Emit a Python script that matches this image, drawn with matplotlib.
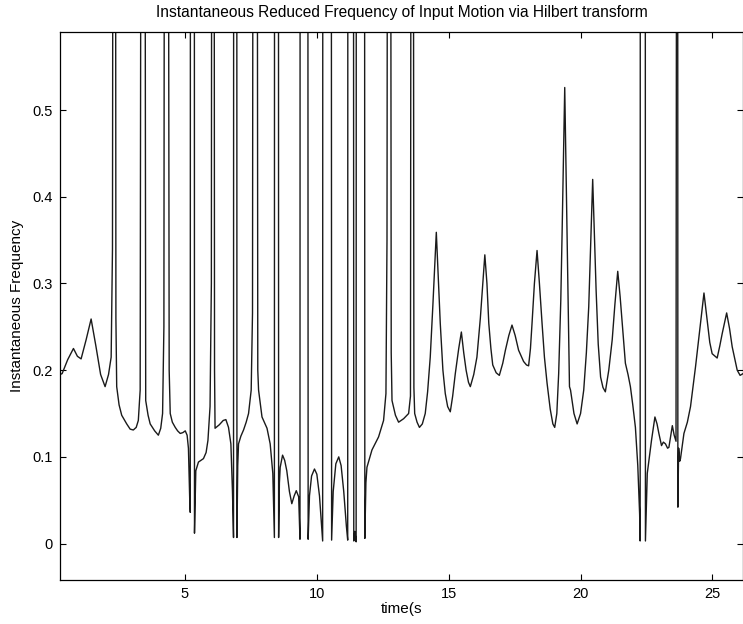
"""
Instantaneous reduced frequency of the input motion (Hilbert transform)
-- single black trace, off-scale spikes are clipped by the y limits
"""

import matplotlib
matplotlib.use("Agg")
import matplotlib.pyplot as plt

# values; 1.5 stands for the off-scale spikes
time_s = [
    0.26, 0.34, 0.55, 0.77, 0.92, 1.06, 1.25, 1.44, 1.62, 1.80, 1.97, 2.10, 2.20, 2.25,
    2.29, 2.35, 2.38, 2.41, 2.50, 2.60, 2.79, 2.92, 3.04, 3.15, 3.23, 3.30,
    3.36, 3.46, 3.51, 3.60, 3.68, 3.85, 3.99, 4.08, 4.15, 4.20,
    4.24, 4.34, 4.40, 4.44, 4.52, 4.63, 4.72, 4.82, 4.92, 5.01, 5.08, 5.13, 5.18, 5.20,
    5.21, 5.35, 5.36, 5.41, 5.51, 5.70, 5.80, 5.87, 5.95, 6.00,
    6.03, 6.09, 6.12, 6.14, 6.30, 6.45, 6.55, 6.65, 6.74, 6.80, 6.84,
    6.85, 6.96, 6.97, 7.00, 7.03, 7.12, 7.22, 7.32, 7.41, 7.51, 7.56,
    7.60, 7.72, 7.76, 7.79, 7.92, 8.11, 8.23, 8.33, 8.39,
    8.40, 8.54, 8.55, 8.58, 8.61, 8.70, 8.78, 8.86, 8.96, 9.05, 9.14, 9.22, 9.31, 9.36,
    9.37, 9.65, 9.67, 9.72, 9.80, 9.91, 10.00, 10.10, 10.18, 10.22,
    10.23, 10.54, 10.56, 10.62, 10.72, 10.83, 10.92, 11.02, 11.12, 11.17,
    11.18, 11.38, 11.40, 11.44, 11.49,
    11.50, 11.80, 11.82, 11.86, 11.90, 12.09, 12.34, 12.53, 12.62, 12.66,
    12.70, 12.78, 12.82, 12.85, 12.98, 13.10, 13.29, 13.48, 13.55,
    13.59, 13.64, 13.68, 13.71, 13.80, 13.89, 14.00, 14.11, 14.20, 14.30, 14.40, 14.53,
    14.60, 14.68, 14.78, 14.87, 14.96, 15.06, 15.15, 15.25, 15.38, 15.48, 15.57, 15.66,
    15.75, 15.82, 15.95, 16.07, 16.20, 16.37, 16.45, 16.52, 16.60, 16.67, 16.80, 16.92,
    17.05, 17.15, 17.28, 17.40, 17.52, 17.65, 17.84, 17.95, 18.03, 18.10, 18.16, 18.25,
    18.35, 18.44, 18.54, 18.63, 18.73, 18.85, 18.95, 19.02, 19.10, 19.17, 19.25, 19.30,
    19.40, 19.49, 19.58, 19.62, 19.75, 19.87, 20.00, 20.12, 20.22, 20.31, 20.40, 20.46,
    20.52, 20.59, 20.67, 20.76, 20.85, 20.94, 21.07, 21.20, 21.30, 21.41, 21.50, 21.58,
    21.70, 21.80, 21.89, 21.98, 22.08, 22.17, 22.24, 22.26,
    22.27, 22.45, 22.46, 22.50, 22.53, 22.69, 22.82, 22.90, 22.97, 23.07, 23.14, 23.22,
    23.30, 23.35, 23.48, 23.55, 23.62,
    23.66, 23.68, 23.69, 23.72, 23.76, 23.79, 23.92, 24.05, 24.17, 24.36, 24.55, 24.68,
    24.80, 24.90, 24.99, 25.18, 25.28, 25.37, 25.54, 25.65, 25.75, 25.94, 26.05, 26.16,
]

inst_freq = [
    0.195, 0.196, 0.212, 0.225, 0.216, 0.213, 0.235, 0.259, 0.228, 0.195, 0.181, 0.195, 0.215, 0.340,
    1.5, 1.5, 0.260, 0.181, 0.160, 0.148, 0.138, 0.132, 0.131, 0.134, 0.142, 0.177,
    1.5, 1.5, 0.165, 0.148, 0.138, 0.130, 0.125, 0.133, 0.150, 0.250,
    1.5, 1.5, 0.200, 0.150, 0.140, 0.134, 0.130, 0.127, 0.128, 0.130, 0.125, 0.110, 0.050, 0.036,
    1.5, 1.5, 0.012, 0.084, 0.094, 0.098, 0.105, 0.119, 0.158, 0.300,
    1.5, 1.5, 0.200, 0.133, 0.137, 0.142, 0.143, 0.134, 0.115, 0.060, 0.007,
    1.5, 1.5, 0.007, 0.090, 0.115, 0.124, 0.131, 0.140, 0.150, 0.177, 0.266,
    1.5, 1.5, 0.200, 0.177, 0.146, 0.133, 0.115, 0.081, 0.007,
    1.5, 1.5, 0.007, 0.070, 0.088, 0.102, 0.096, 0.084, 0.060, 0.046, 0.055, 0.061, 0.054, 0.005,
    1.5, 1.5, 0.005, 0.055, 0.078, 0.086, 0.080, 0.055, 0.020, 0.003,
    1.5, 1.5, 0.004, 0.060, 0.092, 0.100, 0.090, 0.060, 0.020, 0.004,
    1.5, 1.5, 0.003, 0.014, 0.002,
    1.5, 1.5, 0.006, 0.070, 0.088, 0.108, 0.123, 0.142, 0.173, 0.350,
    1.5, 1.5, 0.220, 0.165, 0.148, 0.140, 0.144, 0.150, 0.170,
    1.5, 1.5, 0.180, 0.150, 0.140, 0.134, 0.138, 0.150, 0.175, 0.215, 0.275, 0.359,
    0.310, 0.254, 0.200, 0.173, 0.158, 0.152, 0.170, 0.196, 0.225, 0.244, 0.220, 0.200,
    0.186, 0.181, 0.195, 0.215, 0.260, 0.333, 0.300, 0.254, 0.225, 0.206, 0.197, 0.194,
    0.208, 0.223, 0.240, 0.252, 0.240, 0.223, 0.210, 0.206, 0.205, 0.225, 0.254, 0.300,
    0.338, 0.300, 0.254, 0.215, 0.185, 0.155, 0.138, 0.134, 0.150, 0.196, 0.280, 0.358,
    0.526, 0.350, 0.181, 0.177, 0.150, 0.138, 0.150, 0.177, 0.220, 0.273, 0.360, 0.420,
    0.360, 0.292, 0.230, 0.192, 0.180, 0.175, 0.200, 0.235, 0.275, 0.314, 0.285, 0.254,
    0.208, 0.195, 0.181, 0.160, 0.134, 0.090, 0.034, 0.003,
    1.5, 1.5, 0.003, 0.050, 0.081, 0.119, 0.146, 0.138, 0.127, 0.113, 0.117, 0.115,
    0.110, 0.111, 0.136, 0.125, 0.118,
    1.5, 1.5, 0.042, 0.110, 0.095, 0.098, 0.127, 0.140, 0.158, 0.204, 0.254, 0.289,
    0.258, 0.232, 0.219, 0.214, 0.228, 0.242, 0.266, 0.248, 0.227, 0.200, 0.194, 0.196,
]

x_ticks = [5, 10, 15, 20, 25]
y_ticks = [0, 0.1, 0.2, 0.3, 0.4, 0.5]
y_tick_labels = ["0", "0.1", "0.2", "0.3", "0.4", "0.5"]

plt.rcParams["font.family"] = ["Liberation Sans", "DejaVu Sans"]

fig = plt.figure(figsize=(7.43, 6.24), dpi=100)
ax = fig.add_axes([60 / 743, 1 - 580 / 624, 683 / 743, 548 / 624])

ax.plot(time_s, inst_freq, color="#1a1a1a", lw=1.0)

ax.set_xlim(0.26, 26.16)
ax.set_ylim(-0.042, 0.59)
ax.set_xticks(x_ticks)
ax.set_yticks(y_ticks, y_tick_labels)
ax.tick_params(direction="in", top=True, right=True, length=4, width=0.8,
               labelsize=10.5, pad=5)
for s in ax.spines.values():
    s.set_linewidth(0.9)

ax.set_title("Instantaneous Reduced Frequency of Input Motion via Hilbert transform",
             fontsize=11.2, pad=11)
ax.set_xlabel("time(s", fontsize=11, labelpad=1)
ax.set_ylabel("Instantaneous Frequency", fontsize=11, labelpad=6)

fig.savefig("out.png", dpi=100)
